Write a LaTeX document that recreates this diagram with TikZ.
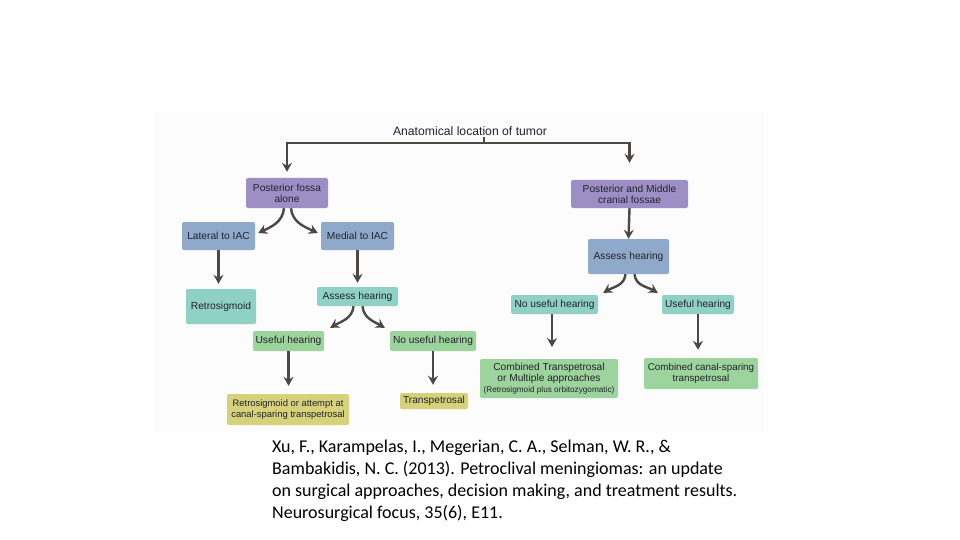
\documentclass[tikz,border=0pt]{standalone}
\usepackage{fontspec}
\setmainfont{Liberation Sans}
\newfontfamily\citefont{Carlito}
\usetikzlibrary{arrows.meta}
\definecolor{purplefill}{HTML}{9D8FC6}
\definecolor{bluefill}{HTML}{8FA9CB}
\definecolor{tealfill}{HTML}{8FD1C4}
\definecolor{greenfill}{HTML}{9DD39C}
\definecolor{yellowfill}{HTML}{D6D27C}
\definecolor{arrowgray}{HTML}{4B4845}
\definecolor{boxtext}{HTML}{23232B}
\tikzset{
	chartbox/.style = {rounded corners = 2pt,
					   align = center,
					   inner sep = 0pt,
					   text = boxtext,
					   font = \fontsize{10.2}{11}\selectfont},
	purplebox/.style = {chartbox, fill = purplefill},
	bluebox/.style = {chartbox, fill = bluefill},
	tealbox/.style = {chartbox, fill = tealfill},
	greenbox/.style = {chartbox, fill = greenfill},
	yellowbox/.style = {chartbox, fill = yellowfill},
	flowarrow/.style = {draw = arrowgray,
						line width = 2.4pt,
						-{Stealth[length = 9pt, width = 10pt, inset = 3pt]}},
	flowline/.style = {draw = arrowgray,
					   line width = 2pt}
}
\begin{document}
\begin{tikzpicture}[x = 1pt, y = -1pt]
	\useasboundingbox[fill = white] (0, 0) rectangle (960, 540);
	\fill[fill = black!1] (153, 112) rectangle (764, 432);

	% title and the split below it
	\draw (470, 131) node[text = boxtext,
						  inner sep = 1pt,
						  font = \fontsize{12.2}{13}\selectfont
				   ](title){Anatomical location of tumor};
	\coordinate (split) at (484, 143);

	% left branch
	\draw (287, 193) node[purplebox,
						  minimum width = 82pt,
						  minimum height = 30pt
				   ](pfa){Posterior fossa\\alone};
	\draw (218.5, 236) node[bluebox,
						  minimum width = 73pt,
						  minimum height = 28pt
				   ](lat){Lateral to IAC};
	\draw (357.5, 236) node[bluebox,
						  minimum width = 73pt,
						  minimum height = 28pt
				   ](med){Medial to IAC};
	\draw (221, 306.5) node[tealbox,
						  minimum width = 70pt,
						  minimum height = 35pt
				   ](retro){Retrosigmoid};
	\draw (357.5, 296.5) node[tealbox,
						  minimum width = 81pt,
						  minimum height = 19pt
				   ](hearL){Assess hearing};
	\draw (288.5, 341) node[greenbox,
						  minimum width = 71pt,
						  minimum height = 20pt
				   ](usefulL){Useful hearing};
	\draw (433, 341) node[greenbox,
						  minimum width = 86pt,
						  minimum height = 20pt
				   ](nousefulL){No useful hearing};
	\draw (288, 409.5) node[yellowbox,
						  minimum width = 122pt,
						  minimum height = 31pt,
						  font = \fontsize{9.4}{11}\selectfont
				   ](attempt){Retrosigmoid or attempt at\\canal-sparing transpetrosal};
	\draw (434, 401) node[yellowbox,
						  minimum width = 68pt,
						  minimum height = 16pt
				   ](transp){Transpetrosal};

	% right branch
	\draw (629.5, 194) node[purplebox,
						  minimum width = 117pt,
						  minimum height = 28pt
				   ](pmc){Posterior and Middle\\cranial fossae};
	\draw (628.5, 256.5) node[bluebox,
						  minimum width = 81pt,
						  minimum height = 35pt
				   ](hearR){Assess hearing};
	\draw (554.5, 304.5) node[tealbox,
						  minimum width = 87pt,
						  minimum height = 19pt
				   ](nousefulR){No useful hearing};
	\draw (698, 304.5) node[tealbox,
						  minimum width = 72pt,
						  minimum height = 19pt
				   ](usefulR){Useful hearing};
	\draw (549, 378.5) node[greenbox,
						  minimum width = 138pt,
						  minimum height = 39pt
				   ](multi){Combined Transpetrosal\\or Multiple approaches\\{\fontsize{8.2}{9}\selectfont(Retrosigmoid plus orbitozygomatic)}};
	\draw (701, 373.5) node[greenbox,
						  minimum width = 114pt,
						  minimum height = 31pt,
						  font = \fontsize{9.8}{11}\selectfont
				   ](sparing){Combined canal-sparing\\transpetrosal};

	% connectors
	\draw[flowline] (title.south -| split) -- (split);
	\draw[flowarrow, shorten > = 6pt] (split) -| (pfa.north);
	\draw[flowarrow, shorten > = 17pt] (split) -| (pmc.north);

	\draw[flowarrow] ([xshift = -3pt]pfa.south) to[out = -95, in = 25] ([xshift = 3pt, yshift = 3pt]lat.east);
	\draw[flowarrow] ([xshift = 4pt]pfa.south) to[out = -85, in = 155] ([xshift = -3pt, yshift = 3pt]med.west);
	\draw[flowarrow, shorten > = 5pt] (lat.south) -- (lat.south |- retro.north);
	\draw[flowarrow, shorten > = 4pt] (med.south) -- (hearL.north);
	\draw[flowarrow] ([xshift = -4pt]hearL.south) to[out = -95, in = 30] ([xshift = 6pt, yshift = 3pt]usefulL.north east);
	\draw[flowarrow] ([xshift = 5pt]hearL.south) to[out = -85, in = 150] ([xshift = -5pt, yshift = 3pt]nousefulL.north west);
	\draw[flowarrow, shorten > = 8pt] (usefulL.south) -- (usefulL.south |- attempt.north);
	\draw[flowarrow, shorten > = 8pt] (nousefulL.south) -- (nousefulL.south |- transp.north);

	\draw[flowarrow] (pmc.south) -- (hearR.north);
	\draw[flowarrow] ([xshift = -3pt]hearR.south) to[out = -95, in = 30] ([xshift = 5pt, yshift = 2pt]nousefulR.north east);
	\draw[flowarrow] ([xshift = 6pt]hearR.south) to[out = -85, in = 150] ([xshift = -4pt, yshift = 2pt]usefulR.north west);
	\draw[flowarrow, shorten > = 12pt] (nousefulR.south -| 552, 0) -- (552, 359);
	\draw[flowarrow, shorten > = 8pt] (usefulR.south) -- (usefulR.south |- sparing.north);

	% citation
	\draw (272, 440) node[anchor = north west,
						  align = left,
						  inner sep = 0pt,
						  text = black,
						  font = \citefont\fontsize{18}{22}\selectfont
				   ](cite){Xu, F., Karampelas, I., Megerian, C. A., Selman, W. R., \&\\Bambakidis, N. C. (2013). Petroclival meningiomas: an update\\on surgical approaches, decision making, and treatment results.\\Neurosurgical focus, 35(6), E11.};
\end{tikzpicture}
\end{document}
